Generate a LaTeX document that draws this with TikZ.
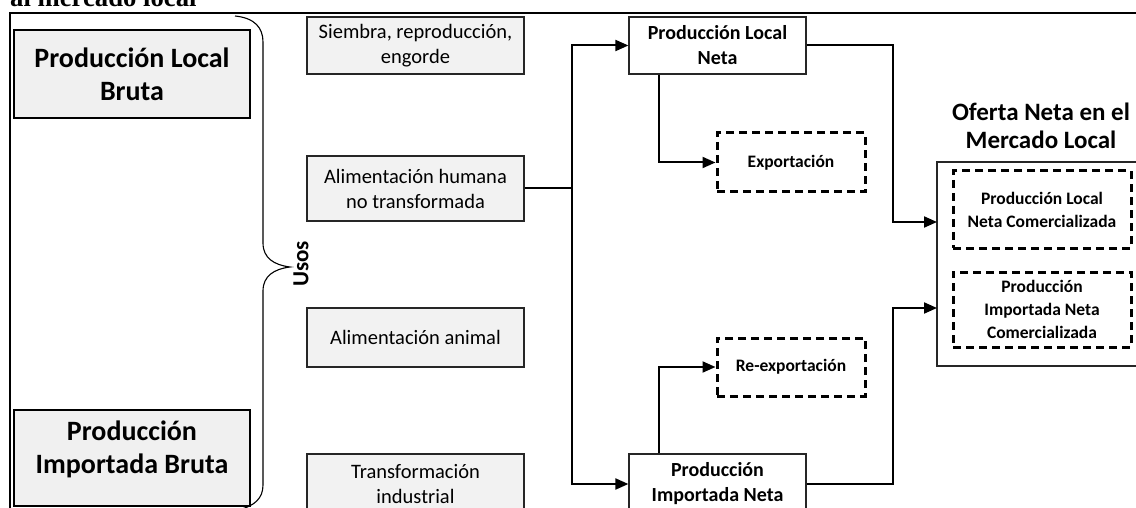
\documentclass[tikz,border=0pt]{standalone}
\usepackage{fontspec}
\setmainfont{Carlito}
\newfontfamily\timesfont{Liberation Serif}
\usetikzlibrary{arrows.meta}
\begin{document}
\begin{tikzpicture}[x=1pt,y=-1pt,
  usebox/.style={draw=black!85,line width=1.2pt,fill=black!5,minimum width=217pt,inner sep=0pt,align=center,font=\fontsize{20.5}{25}\selectfont},
  bigbox/.style={draw=black,line width=2.2pt,fill=black!6,minimum width=236pt,inner sep=0pt},
  bigtext/.style={align=center,inner sep=0pt,font=\bfseries\fontsize{28}{33}\selectfont},
  netbox/.style={draw=black!85,line width=1.2pt,fill=white,minimum width=177pt,inner sep=0pt,align=center,font=\bfseries\fontsize{20}{25}\selectfont},
  dashbox/.style={draw=black,line width=3pt,dash pattern=on 8pt off 5pt,minimum width=148pt,inner sep=0pt,align=center,font=\bfseries\fontsize{17.5}{23}\selectfont},
  conn/.style={draw=black,line width=2pt},
  arr/.style={conn,-{Triangle[length=13pt,width=11pt]}}]
\useasboundingbox (0,0) rectangle (1136,508);
\clip (0,0) rectangle (1136,508);
\fill[white] (0,0) rectangle (1136,508);
% title fragment and frame
\node[anchor=base west,inner sep=0pt,font=\timesfont\bfseries\fontsize{26.7}{30}\selectfont] (title) at (10,7) {al mercado local};
\draw[line width=2.5pt] (10,560) -- (10,13) -- (1200,13);
% gross production boxes
\node[bigbox,minimum height=88pt] (plb) at (132,74) {};
\node[bigtext] (plbt) at (132,74) {Producción Local\\Bruta};
\node[bigbox,minimum height=96pt] (pib) at (132,458) {};
\node[bigtext] (pibt) at (132,449) {Producción\\Importada Bruta};
% brace
\draw[line width=1.1pt] (235,16) .. controls (255,18) and (263,28) .. (263,42) -- (263,243) .. controls (263,258) and (274,265) .. (290,267) .. controls (274,269) and (263,276) .. (263,291) -- (263,485) .. controls (263,498) and (255,506) .. (238,510);
\node[rotate=90,inner sep=0pt,font=\bfseries\fontsize{23}{26}\selectfont] (usos) at (301,264) {Usos};
% uses
\node[usebox,minimum height=57pt] (siem) at (415.5,45.5) {Siembra, reproducción,\\engorde};
\node[usebox,minimum height=65pt] (ahum) at (415.5,188.5) {Alimentación humana\\no transformada};
\node[usebox,minimum height=59pt] (aani) at (415.5,337.5) {Alimentación animal};
\node[usebox,minimum height=60pt] (tind) at (415.5,484) {Transformación\\industrial};
% net production
\node[netbox,minimum height=57pt] (pln) at (717.5,45.5) {Producción Local\\Neta};
\node[netbox,minimum height=60pt] (pin) at (717.5,484) {Producción\\Importada Neta};
\node[dashbox,minimum height=59pt] (exp) at (791,162.5) {Exportación};
\node[dashbox,minimum height=58pt] (rexp) at (791,367) {Re-exportación};
% offer
\node[align=center,inner sep=0pt,font=\bfseries\fontsize{25}{28}\selectfont] (oft) at (1041,126) {Oferta Neta en el\\Mercado Local};
\node[draw=black!85,line width=1.3pt,minimum width=210pt,minimum height=204pt,inner sep=0pt] (of) at (1042,264) {};
\node[dashbox,minimum width=178pt,minimum height=77pt] (plnc) at (1042,209.5) {Producción Local\\Neta Comercializada};
\node[dashbox,minimum width=178pt,minimum height=75pt] (pinc) at (1042,309.5) {Producción\\Importada Neta\\Comercializada};
\coordinate (in1) at (937,222);
\coordinate (in2) at (937,308);
% connectors
\draw[arr] (ahum.east) -- (572,188.5) |- (pln.west);
\draw[arr] (ahum.east) -- (572,188.5) |- (pin.west);
\draw[arr] (pln.south -| 659,0) |- (exp.west);
\draw[arr] (pin.north -| 659,0) |- (rexp.west);
\draw[arr] (pln.east) -| (893,100) |- (in1);
\draw[arr] (pin.east) -| (893,400) |- (in2);
\end{tikzpicture}
\end{document}
